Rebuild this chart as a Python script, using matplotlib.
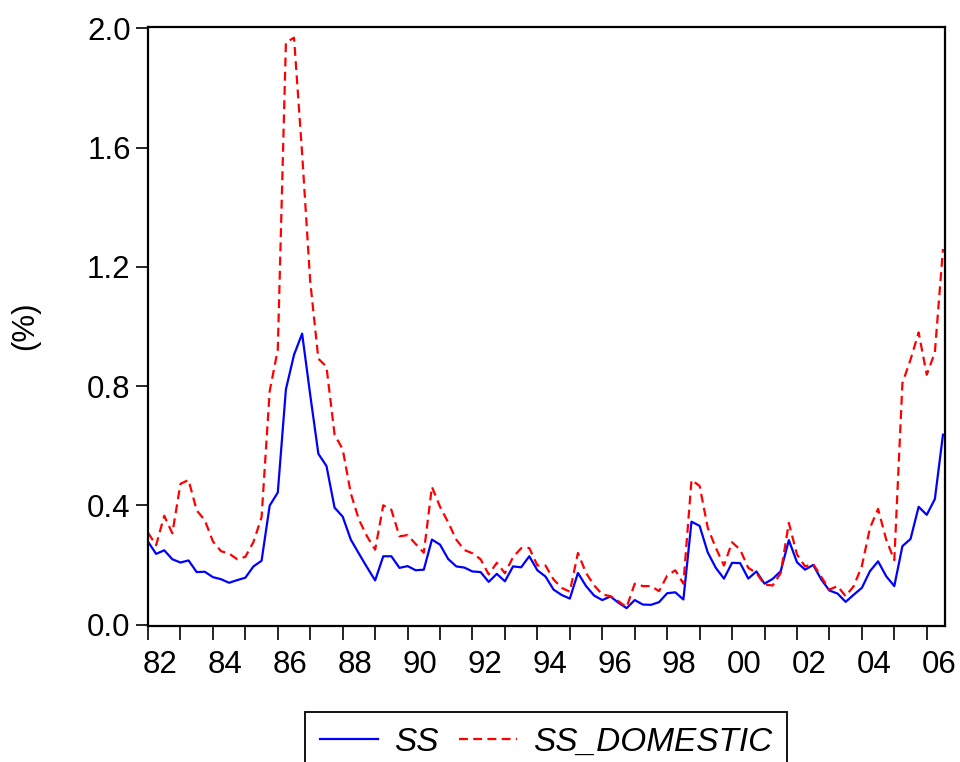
import matplotlib
matplotlib.use("Agg")
import matplotlib.pyplot as plt

plt.rcParams['font.family'] = ['Liberation Sans', 'DejaVu Sans']

# Quarterly observations, 1982Q1 .. 2006Q3
start_year = 1982
ss = [0.278, 0.237, 0.249, 0.219, 0.208, 0.215, 0.176, 0.177, 0.159, 0.152,
      0.140, 0.149, 0.157, 0.195, 0.214, 0.399, 0.443, 0.789, 0.905, 0.976,
      0.770, 0.573, 0.532, 0.392, 0.362, 0.285, 0.238, 0.192, 0.148, 0.229,
      0.229, 0.190, 0.196, 0.182, 0.184, 0.285, 0.268, 0.220, 0.195, 0.191,
      0.178, 0.176, 0.143, 0.170, 0.145, 0.195, 0.192, 0.229, 0.182, 0.161,
      0.117, 0.099, 0.087, 0.173, 0.129, 0.097, 0.082, 0.094, 0.073, 0.055,
      0.082, 0.067, 0.066, 0.075, 0.105, 0.108, 0.084, 0.345, 0.331, 0.242,
      0.190, 0.154, 0.207, 0.206, 0.154, 0.178, 0.137, 0.153, 0.179, 0.283,
      0.209, 0.184, 0.200, 0.151, 0.114, 0.104, 0.076, 0.100, 0.123, 0.179,
      0.212, 0.162, 0.129, 0.263, 0.287, 0.395, 0.368, 0.421, 0.637]
ss_domestic = [0.308, 0.266, 0.365, 0.306, 0.472, 0.485, 0.383, 0.350, 0.279, 0.246,
               0.238, 0.219, 0.227, 0.277, 0.360, 0.783, 0.922, 1.953, 1.969, 1.580,
               1.150, 0.892, 0.865, 0.637, 0.588, 0.440, 0.352, 0.296, 0.251, 0.400,
               0.385, 0.296, 0.300, 0.270, 0.241, 0.462, 0.395, 0.343, 0.285, 0.250,
               0.239, 0.219, 0.168, 0.207, 0.172, 0.226, 0.256, 0.257, 0.198, 0.198,
               0.151, 0.123, 0.110, 0.240, 0.173, 0.131, 0.101, 0.095, 0.078, 0.058,
               0.137, 0.129, 0.129, 0.112, 0.164, 0.182, 0.137, 0.485, 0.465, 0.325,
               0.257, 0.198, 0.276, 0.251, 0.190, 0.173, 0.134, 0.131, 0.173, 0.341,
               0.235, 0.195, 0.203, 0.160, 0.117, 0.129, 0.095, 0.129, 0.196, 0.324,
               0.388, 0.285, 0.216, 0.810, 0.889, 0.980, 0.838, 0.913, 1.260]
year_labels = ['82', '84', '86', '88', '90', '92', '94', '96', '98', '00', '02', '04', '06']
y_ticks = [0.0, 0.4, 0.8, 1.2, 1.6, 2.0]

fs = 22.5
idx = list(range(len(ss)))

fig = plt.figure(figsize=(9.6, 7.62), dpi=100)
ax = fig.add_axes([148 / 960, 1 - 626 / 762, 797 / 960, 599 / 762])

ax.plot(idx, ss, color='#0000ff', lw=1.6, label='SS')
ax.plot(idx, ss_domestic, color='#ff0000', lw=1.6, dashes=(4, 2.4), label='SS_DOMESTIC')

ax.set_xlim(0, 98.25)
ax.set_ylim(-0.005, 2.005)

# yearly ticks, labels every other year placed inside the year
ax.set_xticks(list(range(0, len(ss), 4)))
ax.set_xticklabels([])
ax.set_xticks([8 * k + 1.5 for k in range(len(year_labels))], minor=True)
ax.set_xticklabels(year_labels, minor=True, fontsize=fs)
ax.tick_params(axis='x', which='major', direction='out', length=10, width=1.2)
ax.tick_params(axis='x', which='minor', length=0, pad=17)

ax.set_yticks(y_ticks)
ax.set_yticklabels(['%.1f' % v for v in y_ticks], fontsize=fs)
ax.tick_params(axis='y', direction='out', length=8.5, width=1.2, pad=4)

for sp in ax.spines.values():
    sp.set_linewidth(1.6)

fig.text(25 / 960, 1 - 326 / 762, '(%)', rotation=90, fontsize=fs, ha='center', va='center')

leg = ax.legend(loc='upper center', bbox_to_anchor=(546 / 960, 1 - 712 / 762),
                bbox_transform=fig.transFigure, ncol=2,
                prop={'style': 'italic', 'size': 24}, frameon=True, fancybox=False,
                framealpha=1, handlelength=1.75, handletextpad=0.48, columnspacing=0.6,
                borderpad=0.45, borderaxespad=0)
leg.get_frame().set_edgecolor('black')
leg.get_frame().set_linewidth(1.3)

fig.savefig('out.png', dpi=100)
